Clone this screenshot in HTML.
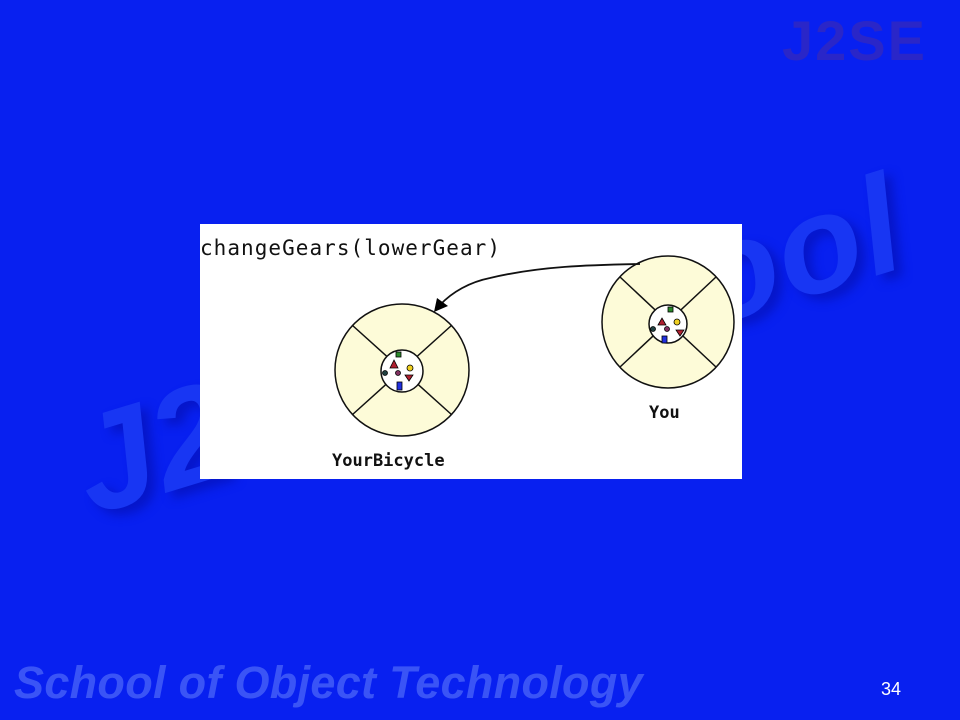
<!DOCTYPE html>
<html><head><style>
html,body{margin:0;padding:0}
body{width:960px;height:720px;background:#0820f0;position:relative;overflow:hidden;font-family:"Liberation Sans",sans-serif}
.wm{position:absolute;font-weight:bold;font-style:italic;white-space:nowrap}
</style></head><body>
<div class="wm" style="left:782px;top:8px;font-size:56px;color:#2a26c8;font-style:normal;letter-spacing:2px">J2SE</div>
<div class="wm" style="left:55px;top:395px;font-size:138px;color:#1836f3;transform:rotate(-17deg);transform-origin:left top;letter-spacing:2px;text-shadow:6px 8px 10px #0616c8">J2SE School</div>
<div class="wm" style="left:14px;top:657px;font-size:45px;color:#3a54f6;letter-spacing:0.3px">School of Object Technology</div>
<div style="position:absolute;left:881px;top:679px;color:#fff;font-size:18px">34</div>
<svg style="position:absolute;left:200px;top:224px" width="542" height="255" viewBox="200 224 542 255">
<rect x="200" y="224" width="542" height="255" fill="#fff"/>
<text x="200" y="255" font-family="DejaVu Sans Mono,Liberation Mono,monospace" font-size="21" fill="#111" textLength="300">changeGears(lowerGear)</text>
<g stroke="#111" stroke-width="1.5" fill="#fdfbd8">
<ellipse cx="402" cy="370" rx="67" ry="66"/>
<line x1="352" y1="325" x2="452" y2="415"/><line x1="452" y1="325" x2="352" y2="415"/>
<ellipse cx="402" cy="371" rx="21" ry="21" fill="#fff"/>
<ellipse cx="668" cy="322" rx="66" ry="66"/>
<line x1="620" y1="277" x2="716" y2="367"/><line x1="716" y1="277" x2="620" y2="367"/>
<ellipse cx="668" cy="324" rx="19" ry="19" fill="#fff"/>
</g>
<g stroke="#000" stroke-width="0.8">
<polygon points="390,368 394,360 398,368" fill="#b02030"/><rect x="396" y="352" width="5" height="5" fill="#2a8a2a"/>
<circle cx="410" cy="368" r="3" fill="#f0d020"/><polygon points="405,375 413,375 409,381" fill="#b02030"/>
<rect x="397" y="382" width="5" height="8" fill="#2030e0"/><circle cx="385" cy="373" r="2.5" fill="#204040"/><circle cx="398" cy="373" r="2.5" fill="#803060"/>
<polygon points="658,325 662,318 666,325" fill="#b02030"/><rect x="668" y="307" width="5" height="5" fill="#2a8a2a"/>
<circle cx="677" cy="322" r="3" fill="#f0d020"/><polygon points="676,330 684,330 680,336" fill="#b02030"/>
<rect x="662" y="336" width="5" height="7" fill="#2030e0"/><circle cx="653" cy="329" r="2.5" fill="#204040"/><circle cx="667" cy="329" r="2.5" fill="#803060"/>
</g>
<path d="M640 264 C590 265 540 266 490 278 C470 282 452 292 440 305" stroke="#111" stroke-width="1.8" fill="none"/>
<polygon points="434,312 437,298 448,306" fill="#000"/>
<text x="332" y="466" font-family="DejaVu Sans Mono,Liberation Mono,monospace" font-size="17" font-weight="bold" fill="#111">YourBicycle</text>
<text x="649" y="418" font-family="DejaVu Sans Mono,Liberation Mono,monospace" font-size="17" font-weight="bold" fill="#111">You</text>
</svg>
</body></html>
